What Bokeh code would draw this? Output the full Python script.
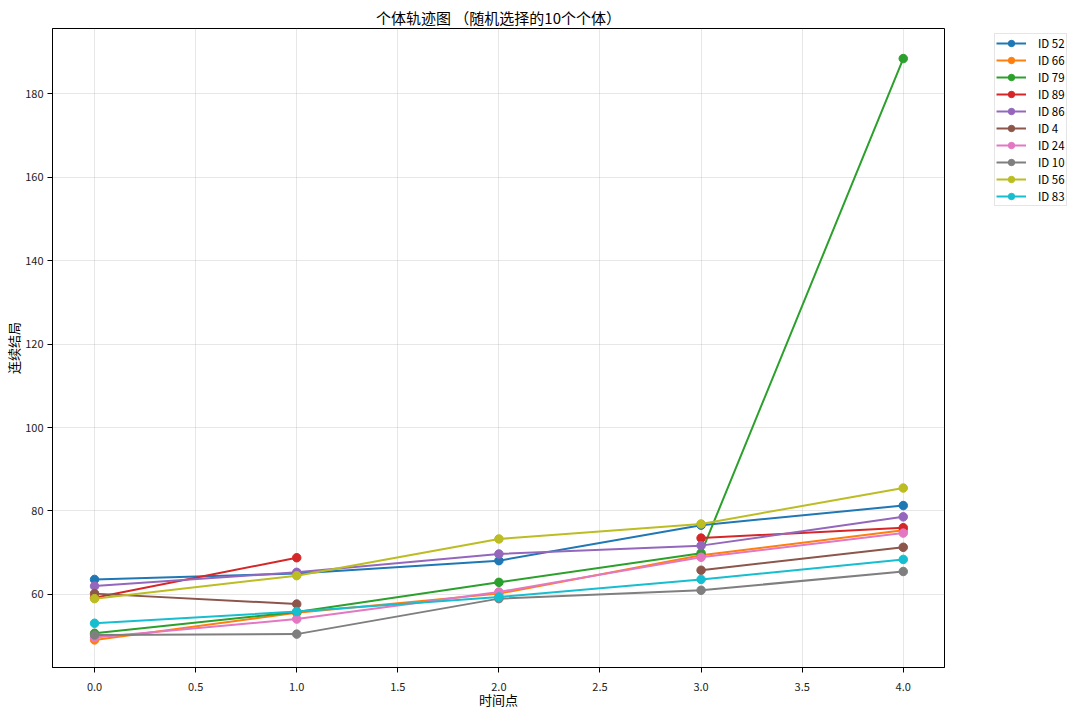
from bokeh.plotting import figure
from bokeh.layouts import row
from bokeh.models import Legend, LegendItem, FixedTicker, Range1d, NumeralTickFormatter
from bokeh.embed import file_html
from bokeh.resources import INLINE

nan = float("nan")

time_points = [0, 1, 2, 3, 4]
ids = ["ID 52", "ID 66", "ID 79", "ID 89", "ID 86", "ID 4", "ID 24", "ID 10", "ID 56", "ID 83"]
id52 = [63.6, 65.0, 68.1, 76.6, 81.3]
id66 = [49.1, 55.6, 60.2, 69.4, 75.4]
id79 = [50.7, 55.8, 62.9, 69.9, 188.4]
id89 = [59.2, 68.8, nan, 73.5, 76.0]
id86 = [62.0, 65.3, 69.7, 71.7, 78.6]
id4 = [60.2, 57.7, nan, 65.8, 71.3]
id24 = [49.7, 54.1, 60.6, 68.9, 74.7]
id10 = [50.3, 50.5, 59.0, 61.0, 65.5]
id56 = [59.0, 64.5, 73.3, 76.9, 85.5]
id83 = [53.1, 55.9, 59.4, 63.6, 68.4]
series = [id52, id66, id79, id89, id86, id4, id24, id10, id56, id83]
colors = ["#1f77b4", "#ff7f0e", "#2ca02c", "#d62728", "#9467bd",
          "#8c564b", "#e377c2", "#7f7f7f", "#bcbd22", "#17becf"]
x_ticks = [0.0, 0.5, 1.0, 1.5, 2.0, 2.5, 3.0, 3.5, 4.0]
y_ticks = [60, 80, 100, 120, 140, 160, 180]

FONT = "Noto Sans CJK SC"

p = figure(width=948, height=714, output_backend="svg", toolbar_location=None,
           title="个体轨迹图 （随机选择的10个个体）",
           x_range=Range1d(-0.208, 4.204), y_range=Range1d(42.5, 195.6),
           min_border_left=52, min_border_right=4, min_border_top=28, min_border_bottom=47)

p.title.align = "center"
p.title.text_font = FONT
p.title.text_font_size = "15px"
p.title.text_font_style = "normal"
p.title.text_color = "black"
p.title.standoff = 2
p.title.offset = 0

p.outline_line_color = "black"
p.outline_line_width = 1

for ax in (p.xaxis[0], p.yaxis[0]):
    ax.axis_line_color = "black"
    ax.major_tick_line_color = "black"
    ax.major_tick_out = 5
    ax.major_tick_in = 0
    ax.minor_tick_line_color = None
    ax.major_label_text_font = FONT
    ax.major_label_text_font_size = "11px"
    ax.major_label_text_color = "#222222"
    ax.axis_label_text_font = FONT
    ax.axis_label_text_font_size = "13px"
    ax.axis_label_text_font_style = "normal"
    ax.axis_label_text_color = "black"

p.xaxis.major_label_standoff = 10
p.xaxis.axis_label_standoff = -4
p.yaxis.major_label_standoff = 4
p.yaxis.axis_label_standoff = -1

p.xaxis.ticker = FixedTicker(ticks=x_ticks)
p.xaxis.formatter = NumeralTickFormatter(format="0.0")
p.yaxis.ticker = FixedTicker(ticks=y_ticks)
p.xaxis.axis_label = "时间点"
p.yaxis.axis_label = "连续结局"

p.grid.grid_line_color = "#b0b0b0"
p.grid.grid_line_alpha = 0.3
p.grid.grid_line_width = 1

for name, vals, c in zip(ids, series, colors):
    p.line(time_points, vals, line_color=c, line_width=2)
    p.scatter(time_points, vals, size=8.5, fill_color=c, line_color=c)

# legend panel to the right of the plot (its own ranges keep the data out of view)
q = figure(width=132, height=714, output_backend="svg", toolbar_location=None,
           x_range=Range1d(100, 101), y_range=Range1d(1000, 1001),
           min_border_left=41, min_border_right=0, min_border_top=0, min_border_bottom=0)
q.axis.visible = False
q.grid.visible = False
q.outline_line_color = None

items = []
for name, vals, c in zip(ids, series, colors):
    ln = q.line(time_points, vals, line_color=c, line_width=2)
    sc = q.scatter(time_points, vals, size=8.5, fill_color=c, line_color=c)
    items.append(LegendItem(label=name, renderers=[ln, sc]))

legend = Legend(items=items, location="top_left")
legend.label_text_font = FONT
legend.label_text_font_size = "11.5px"
legend.label_text_color = "black"
legend.glyph_width = 30
legend.glyph_height = 16
legend.label_height = 16
legend.spacing = 1
legend.padding = 1
legend.label_standoff = 12
legend.margin = 5
legend.border_line_color = "#cccccc"
legend.border_line_width = 1
legend.background_fill_color = "white"
q.add_layout(legend, "center")

layout = row(p, q)
open("out.html", "w").write(file_html(layout, INLINE))
